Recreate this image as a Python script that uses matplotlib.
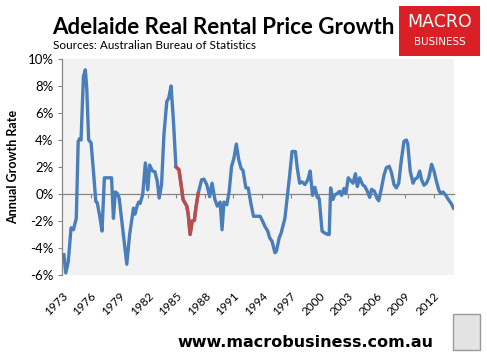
import matplotlib.pyplot as plt
from matplotlib.patches import Rectangle
import numpy as np

# Annual real rental price growth (%)
years = [1973.2, 1973.4, 1973.66, 1973.95, 1974.2, 1974.5, 1974.7, 1974.85, 1975.0, 1975.25,
         1975.45, 1975.6, 1975.8, 1976.05, 1976.3, 1976.55, 1976.7, 1977.0, 1977.2, 1977.45,
         1977.7, 1978.0, 1978.2, 1978.4, 1978.6, 1978.8, 1979.0, 1979.4, 1979.8, 1980.1,
         1980.5, 1980.65, 1980.9, 1981.05, 1981.2, 1981.47, 1981.75, 1982.0, 1982.2, 1982.5,
         1982.75, 1983.0, 1983.2, 1983.45, 1983.7, 1984.0, 1984.2, 1984.45, 1984.7, 1984.96,
         1985.28, 1985.55, 1985.7, 1986.1, 1986.25, 1986.45, 1986.67, 1986.9, 1987.05, 1987.3,
         1987.65, 1987.9, 1988.2, 1988.5, 1988.75, 1989.05, 1989.3, 1989.6, 1989.8, 1990.0,
         1990.3, 1990.55, 1990.8, 1991.05, 1991.3, 1991.55, 1991.8, 1992.0, 1992.3, 1992.55,
         1992.8, 1993.1, 1993.4, 1993.8, 1994.05, 1994.3, 1994.6, 1994.8, 1995.05, 1995.35,
         1995.5, 1995.8, 1996.0, 1996.4, 1996.65, 1996.9, 1997.15, 1997.5, 1997.7, 1997.95,
         1998.2, 1998.5, 1998.8, 1999.05, 1999.3, 1999.55, 1999.8, 2000.0, 2000.3, 2000.6,
         2000.9, 2001.05, 2001.2, 2001.45, 2001.6, 2001.9, 2002.15, 2002.35, 2002.6, 2002.8,
         2003.05, 2003.3, 2003.55, 2003.8, 2004.0, 2004.25, 2004.55, 2004.8, 2005.05, 2005.3,
         2005.5, 2005.8, 2006.05, 2006.25, 2006.5, 2006.8, 2007.05, 2007.35, 2007.6, 2007.85,
         2008.1, 2008.35, 2008.6, 2008.9, 2009.15, 2009.3, 2009.55, 2009.85, 2010.05, 2010.3,
         2010.55, 2010.75, 2011.0, 2011.25, 2011.5, 2011.8, 2012.05, 2012.3, 2012.55, 2012.75,
         2013.0, 2013.3, 2013.5, 2013.85, 2014.1]
growth = [-4.5, -5.85, -5.0, -2.5, -2.65, -1.8, 3.9, 4.1, 4.0, 8.7,
          9.2, 7.8, 4.0, 3.8, 1.7, -0.55, -0.65, -1.8, -2.75, 1.2,
          1.2, 1.2, 1.2, -1.8, 0.15, 0.05, -0.3, -2.75, -5.2, -3.0,
          -1.05, -1.5, -0.85, -0.6, -0.7, -0.05, 2.3, 0.3, 2.15, 1.7,
          1.65, 0.95, -0.3, 0.7, 4.4, 6.85, 7.1, 8.0, 5.4, 2.0,
          1.8, 0.45, -0.4, -0.9, -1.5, -3.0, -2.0, -1.95, -1.05, 0.05,
          1.05, 1.1, 0.7, -0.2, 0.8, -0.4, -0.9, -0.6, -2.65, -0.6,
          -0.8, 0.2, 2.05, 2.65, 3.7, 2.55, 1.9, 1.75, 0.45, 0.45,
          -0.6, -1.65, -1.65, -1.65, -2.0, -2.4, -2.75, -3.25, -3.5, -4.35,
          -4.25, -3.25, -2.9, -1.8, -0.2, 1.4, 3.15, 3.15, 1.9, 0.8,
          0.9, 0.7, 1.05, 1.7, -0.1, 0.5, -0.25, -0.35, -2.75, -2.9,
          -3.0, -3.0, 0.45, -0.4, -0.1, 0.05, 0.2, -0.1, 0.4, 0.05,
          1.2, 1.0, 0.8, 1.5, 0.55, 1.2, 0.7, 0.55, 0.2, -0.25,
          0.35, 0.2, -0.3, -0.5, 0.3, 1.4, 1.95, 2.05, 1.55, 0.7,
          0.45, 0.8, 2.4, 3.9, 4.0, 3.7, 1.7, 0.8, 1.1, 1.2,
          1.7, 1.05, 0.65, 0.8, 1.2, 2.2, 1.7, 0.95, 0.3, 0.05,
          0.15, -0.1, -0.35, -0.7, -1.05]

highlight = (1984.96, 1987.3)   # period drawn in red
tick_years = list(range(1973, 2013, 3))
y_ticks = [-6, -4, -2, 0, 2, 4, 6, 8, 10]

years = np.array(years)
growth = np.array(growth)

plt.rcParams['font.family'] = ['Lato', 'DejaVu Sans']

fig = plt.figure(figsize=(4.87, 3.56), dpi=100)
ax = fig.add_axes([62 / 487, 1 - 275 / 356, 392 / 487, 216 / 356])
ax.set_facecolor('#F2F2F2')

ax.plot(years, growth, color='#4A7EBB', lw=2.4, solid_joinstyle='round', zorder=3)
m = (years >= highlight[0]) & (years <= highlight[1])
ax.plot(years[m], growth[m], color='#BE4B48', lw=2.4, solid_joinstyle='round', zorder=4)

ax.set_xlim(1973.0, 2014.15)
ax.set_ylim(-6, 10)

# y axis
ax.set_yticks(y_ticks)
ax.set_yticklabels([f'{v}%' for v in y_ticks], fontsize=9.5)
ax.tick_params(axis='y', direction='out', length=3, color='#868686', pad=3)
ax.spines['left'].set_color('#868686')
ax.spines['left'].set_linewidth(0.9)
for s in ['top', 'right']:
    ax.spines[s].set_visible(False)

# horizontal axis sits at 0, labels at the bottom
ax.spines['bottom'].set_position(('data', 0))
ax.spines['bottom'].set_color('#868686')
ax.spines['bottom'].set_linewidth(0.9)
ax.spines['bottom'].set_zorder(2)
ax.set_xticks(tick_years)
ax.tick_params(axis='x', direction='out', length=3, color='#868686', labelbottom=False)

sec = ax.secondary_xaxis(0)
sec.set_xticks(tick_years)
sec.set_xticklabels([str(y) for y in tick_years], rotation=45, ha='right',
                    rotation_mode='anchor', fontsize=8.5)
sec.tick_params(length=0, pad=11)
sec.spines['bottom'].set_visible(False)

ax.set_ylabel('Annual Growth Rate', fontsize=9, fontweight='bold', labelpad=6)

# titles
fig.text(52 / 487, 1 - 34 / 356, 'Adelaide Real Rental Price Growth',
         fontsize=16, fontweight='bold', ha='left', va='baseline')
fig.text(53 / 487, 1 - 49 / 356, 'Sources: Australian Bureau of Statistics',
         fontsize=8.5, ha='left', va='baseline')

# logo
fig.patches.append(Rectangle((399 / 487, 1 - 56 / 356), 81 / 487, 50 / 356,
                             transform=fig.transFigure, facecolor='#DA1F26',
                             edgecolor='none'))
fig.text(439.5 / 487, 1 - 27 / 356, 'MACRO', color='white', fontsize=12.5,
         ha='center', va='baseline', family=['DejaVu Sans'])
fig.text(439.5 / 487, 1 - 45 / 356, 'BUSINESS', color='white', fontsize=7.5,
         ha='center', va='baseline', family=['DejaVu Sans'])

# footer
fig.text(433 / 487, 1 - 347 / 356, 'www.macrobusiness.com.au', fontsize=11.5,
         fontweight='bold', ha='right', va='baseline', family=['DejaVu Sans'])
fig.patches.append(Rectangle((453 / 487, 1 - 350 / 356), 27 / 487, 36 / 356,
                             transform=fig.transFigure, facecolor='#E3E3E3',
                             edgecolor='#9A9A9A', lw=1))

fig.savefig('out.png', dpi=100)
